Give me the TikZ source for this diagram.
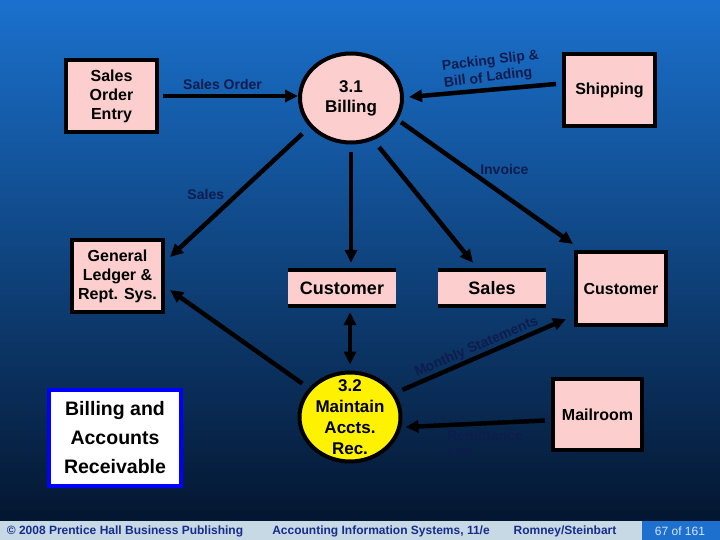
\documentclass[tikz,border=0pt]{standalone}
\usepackage{fontspec}
\setmainfont{Liberation Sans}
\usetikzlibrary{arrows.meta,shapes.geometric}

\definecolor{pinkfill}{RGB}{252,206,206}
\definecolor{lblblue}{RGB}{14,28,78}
\definecolor{topblue}{RGB}{26,113,205}
\definecolor{botblue}{RGB}{4,22,48}
\definecolor{footbg}{RGB}{198,217,229}
\definecolor{foottext}{RGB}{24,44,140}
\definecolor{pageblue}{RGB}{30,112,206}
\definecolor{pagetext}{RGB}{215,228,245}

\begin{document}
\begin{tikzpicture}[x=1pt, y=-1pt, >={Triangle[length=13pt,width=12pt]},
  entity/.style={draw, line width=4pt, fill=pinkfill, inner sep=0pt, align=center,
    minimum width=91pt, minimum height=72pt, font=\fontsize{16}{19}\selectfont\bfseries},
  bubble/.style={ellipse, draw, line width=4pt, inner sep=0pt, align=center,
    minimum width=102pt, minimum height=89pt, font=\fontsize{17}{20}\selectfont\bfseries},
  store/.style={fill=pinkfill, inner sep=0pt, minimum width=108pt, minimum height=40pt,
    font=\fontsize{18}{20}\selectfont\bfseries},
  flow/.style={line width=4.5pt},
  lbl/.style={text=lblblue, inner sep=0pt, font=\fontsize{14}{16.5}\selectfont\bfseries},
  foot/.style={text=foottext, inner sep=0pt, font=\fontsize{12}{14}\selectfont\bfseries}]
  \useasboundingbox (0,0) rectangle (720,540);
  \shade [top color=topblue, bottom color=botblue] (0,0) rectangle (720,521);
  \fill [footbg] (0,521) rectangle (720,540);
  \fill [pageblue] (642,521) rectangle (720,540);

  \node [entity] (soe) at (111.5,96) {Sales\\Order\\Entry};
  \node [bubble, fill=pinkfill] (bill) at (351,98) {3.1\\Billing};
  \node [entity] (ship) at (609.5,90) {Shipping};
  \node [entity] (gl) at (117.5,276) {General\\Ledger \&\\Rept. Sys.};
  \node [store] (cs) at (342,288) {Customer};
  \node [store] (sales) at (492,288) {Sales};
  \node [entity, minimum width=90pt, minimum height=73pt] (cust) at (621,288.5) {Customer};
  \node [bubble, fill=yellow, minimum width=101pt, font=\fontsize{17}{21}\selectfont\bfseries] (maint) at (350,417)
    {\smash{\raisebox{-6pt}{\begin{tabular}{@{}c@{}}3.2\\Maintain\\Accts.\\Rec.\end{tabular}}}};
  \node [entity, minimum width=89pt, minimum height=71pt] (mail) at (597.5,414.5) {Mailroom};
  \node [draw=blue, fill=white, line width=4pt, minimum width=132pt, minimum height=96pt,
    align=center, font=\fontsize{19.5}{29}\selectfont\bfseries] (bar) at (115,438)
    {Billing and\\Accounts\\Receivable};

  \draw [line width=4pt] ([yshift=-2pt]cs.north west) -- ([yshift=-2pt]cs.north east)
    ([yshift=2pt]cs.south west) -- ([yshift=2pt]cs.south east);
  \draw [line width=4pt] ([yshift=-2pt]sales.north west) -- ([yshift=-2pt]sales.north east)
    ([yshift=2pt]sales.south west) -- ([yshift=2pt]sales.south east);

  \path [flow, ->] ([xshift=4pt]soe.east) edge node [lbl, xshift=-8pt, yshift=12pt] {Sales Order} (bill.west |- soe.east);
  \path [flow, ->] ([xshift=-6pt, yshift=6pt]ship.west) edge node [lbl, align=left, xshift=9pt, yshift=21pt, rotate=7] {Packing Slip \&\\Bill of Lading} ([xshift=5pt, yshift=1pt]bill.east);
  \path [flow, ->] (bill.-25) edge [shorten <=4pt] node [lbl, xshift=19pt, yshift=12pt] {Invoice} ([xshift=-1pt, yshift=6pt]cust.north west);
  \path [flow, ->] (bill.-62) edge [shorten <=9pt] ([xshift=-19pt, yshift=5pt]sales.north);
  \path [flow, ->] (bill.south) edge [shorten <=8pt, shorten >=5pt] (bill.south |- cs.north);
  \path [flow, ->] (bill.215) edge [shorten <=10pt] node [lbl, xshift=-34pt, yshift=-2pt] {Sales} ([xshift=5pt, yshift=19pt]gl.east);
  \path [flow, ->] (maint.145) edge [shorten <=8pt] ([xshift=5pt, yshift=-14pt]gl.east);
  \path [flow, <->] (maint.north |- cs.south) edge [shorten <=4pt, shorten >=6pt] (maint.north);
  \path [flow, ->] (maint.28) edge [shorten <=8pt] node [lbl, sloped, above=1pt] {Monthly Statements} ([xshift=-8pt, yshift=8pt]cust.south west);
  \path [flow, ->] ([xshift=-6pt, yshift=-6pt]mail.west) edge node [lbl, align=left, anchor=north west, xshift=-30pt, yshift=-4pt] {Remittance\\List} ([xshift=4pt, yshift=-1pt]maint.-10);

  \node [foot] (copy) at (125,531) {\textcopyright{} 2008 Prentice Hall Business Publishing};
  \node [foot] (book) at (381,531) {Accounting Information Systems, 11/e};
  \node [foot] (auth) at (565,531) {Romney/Steinbart};
  \node [foot, text=pagetext, font=\fontsize{12}{14}\selectfont] (page) at (680,531) {67 of 161};
\end{tikzpicture}
\end{document}
